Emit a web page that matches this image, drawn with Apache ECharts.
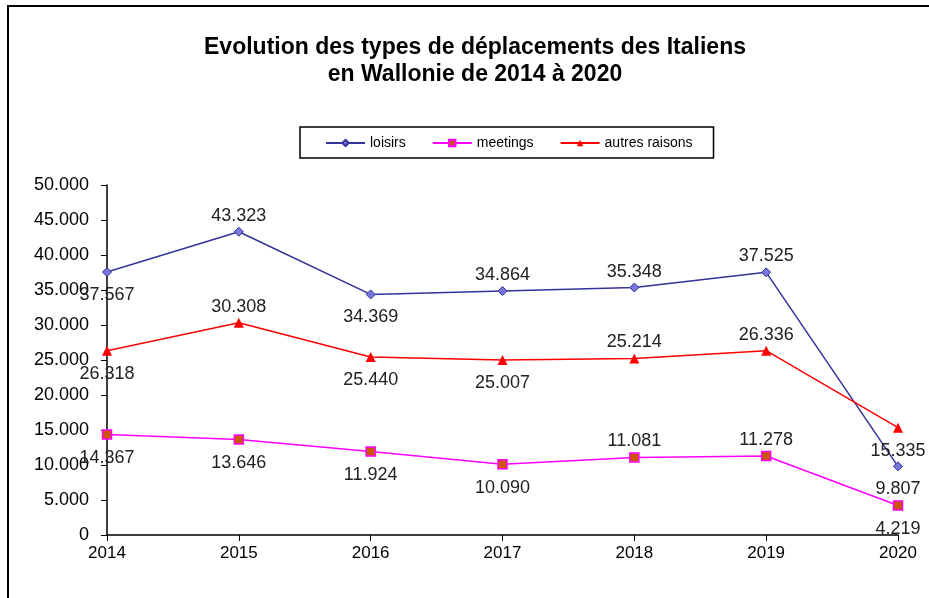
<!DOCTYPE html>
<html>
<head>
<meta charset="utf-8">
<script src="https://cdn.jsdelivr.net/npm/echarts@6/dist/echarts.min.js"></script>
<style>
  html, body { margin: 0; padding: 0; background: #fff; }
  #chart { width: 929px; height: 598px; }
  .frame {
    position: absolute; left: 7px; top: 5px; width: 930px; height: 600px;
    border-left: 2px solid #000; border-top: 2px solid #000; pointer-events: none;
  }
</style>
</head>
<body>
<div id="chart"></div>
<div class="frame"></div>
<script>
const years = ['2014', '2015', '2016', '2017', '2018', '2019', '2020'];
const loisirs = [37567, 43323, 34369, 34864, 35348, 37525, 9807];
const meetings = [14367, 13646, 11924, 10090, 11081, 11278, 4219];
const autres = [26318, 30308, 25440, 25007, 25214, 26336, 15335];

// where each value label sits relative to its point
const posLoisirs = ['bottom', 'top', 'bottom', 'top', 'top', 'top', 'bottom'];
const posMeetings = ['bottom', 'bottom', 'bottom', 'bottom', 'top', 'top', 'bottom'];
const posAutres = ['bottom', 'top', 'bottom', 'bottom', 'top', 'top', 'bottom'];

const FONT = 'Liberation Sans, Arial, sans-serif';

const fmt = v => {
  return String(v).replace(/\B(?=(\d{3})+(?!\d))/g, '.');
};

const withLabels = (values, pos) => values.map((v, i) => ({
  value: v,
  label: { position: pos[i], distance: pos[i] === 'top' ? 2 : 9 }
}));

const labelStyle = {
  show: true,
  color: '#222',
  fontSize: 18,
  fontFamily: FONT,
  formatter: p => fmt(p.value)
};

const chart = echarts.init(document.getElementById('chart'), null, { renderer: 'canvas' });
chart.setOption({
  backgroundColor: '#fff',
  animation: false,
  title: {
    text: 'Evolution des types de déplacements des Italiens\nen Wallonie de 2014 à 2020',
    left: 470,
    textAlign: 'center',
    top: 29,
    textStyle: {
      fontFamily: FONT,
      fontWeight: 'bold',
      fontSize: 23,
      lineHeight: 27,
      color: '#000'
    }
  },
  legend: {
    left: 300,
    top: 127,
    padding: [8, 21, 7, 25],
    itemGap: 26,
    itemWidth: 39,
    itemHeight: 8,
    borderColor: '#000',
    borderWidth: 1.5,
    textStyle: {
      fontFamily: FONT,
      fontSize: 14,
      lineHeight: 16,
      color: '#000'
    },
    data: ['loisirs', 'meetings', 'autres raisons']
  },
  grid: {
    left: 107,
    right: 31,
    top: 185,
    bottom: 63
  },
  xAxis: {
    type: 'category',
    data: years,
    boundaryGap: false,
    axisLine: { lineStyle: { color: '#000', width: 1.5 } },
    axisTick: { show: true, length: 6, lineStyle: { color: '#000' } },
    axisLabel: {
      color: '#000',
      fontSize: 17,
      margin: 10,
      fontFamily: FONT
    },
    splitLine: { show: false }
  },
  yAxis: {
    type: 'value',
    min: 0,
    max: 50000,
    interval: 5000,
    axisLine: { show: true, lineStyle: { color: '#000', width: 1.5 } },
    axisTick: { show: true, length: 6, lineStyle: { color: '#000' } },
    axisLabel: {
      color: '#000',
      fontSize: 18,
      margin: 18,
      fontFamily: FONT,
      formatter: v => fmt(v)
    },
    splitLine: { show: false }
  },
  series: [
    {
      name: 'loisirs',
      type: 'line',
      data: withLabels(loisirs, posLoisirs),
      symbol: 'diamond',
      symbolSize: 9,
      itemStyle: { color: '#7777dd', borderColor: '#333399', borderWidth: 1 },
      lineStyle: { color: '#333399', width: 1.5 },
      label: labelStyle
    },
    {
      name: 'meetings',
      type: 'line',
      data: withLabels(meetings, posMeetings),
      symbol: 'rect',
      symbolSize: 9,
      itemStyle: { color: '#cc5500', borderColor: '#ff00ff', borderWidth: 1.5 },
      lineStyle: { color: '#ff00ff', width: 1.5 },
      label: labelStyle
    },
    {
      name: 'autres raisons',
      type: 'line',
      data: withLabels(autres, posAutres),
      symbol: 'triangle',
      symbolSize: 10,
      itemStyle: { color: '#ff0000', borderColor: '#ff0000', borderWidth: 0 },
      lineStyle: { color: '#ff0000', width: 1.5 },
      label: labelStyle
    }
  ]
});
</script>
</body>
</html>
